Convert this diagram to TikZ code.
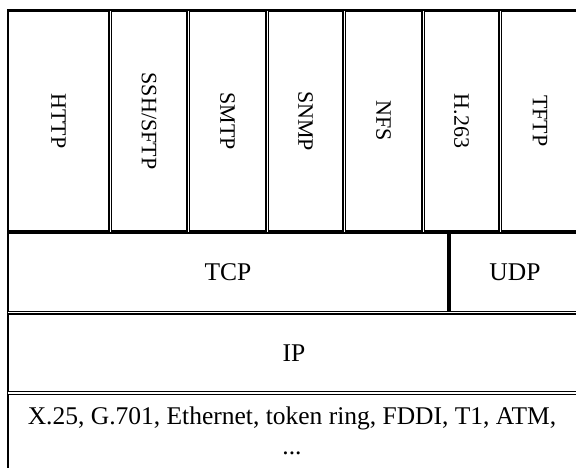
\documentclass[tikz,border=0pt]{standalone}
\usepackage{fontspec}
\setmainfont{Liberation Serif}

\tikzset{
  celda/.style={draw, line width=1.2pt, inner sep=0pt, font=\fontsize{25.5}{30}\selectfont},
  vertical/.style={celda, rotate=-90, font=\fontsize{22}{26}\selectfont, minimum width=220pt}
}

\begin{document}
\begin{tikzpicture}[x=1pt, y=1pt]
    \useasboundingbox (0,0) rectangle (576,468);
    % Tabla (borde exterior)
    \node[draw, line width=1.8pt, anchor=north west, minimum width=590pt, minimum height=520pt] (tabla) at (6.5,458.5) {};

    % Aplicaciones
    \foreach \nombre/\texto/\xa/\xb in {HTTP/HTTP/7/110, SSH/{SSH/SFTP}/110/188, SMTP/SMTP/188/267, SNMP/SNMP/267/344, NFS/NFS/344/423, H263/H.263/423/500, TFTP/TFTP/500/580}
        \node[vertical, minimum height={(\xb-\xa-2.2)*1pt}] (\nombre) at ({(\xa+\xb)/2},347) {\texto};

    % Transporte
    \node[celda, minimum width=440pt, minimum height=78.8pt] (TCP) at (228,195.5) {TCP};
    \node[celda, minimum width=130pt, minimum height=78.8pt] (UDP) at (515,195.5) {UDP};

    % Red
    \node[celda, minimum width=572pt, minimum height=77.8pt] (IP) at (294,115) {IP};

    % Enlace
    \node[celda, anchor=north, minimum width=572pt, minimum height=110pt] (enlace) at (294,74) {};
    \node[anchor=north, align=center, inner sep=0pt, font=\fontsize{25.5}{30}\selectfont] (enlaceTexto) at (292,61) {X.25, G.701, Ethernet, token ring, FDDI, T1, ATM,\\...};
\end{tikzpicture}
\end{document}
